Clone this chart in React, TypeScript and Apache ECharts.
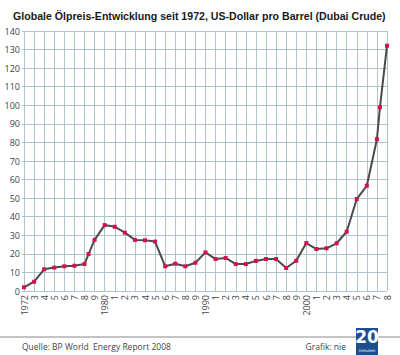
import React, { useEffect, useRef } from "react";
import * as echarts from "echarts";

const years = [1972, 1973, 1974, 1975, 1976, 1977, 1978, 1978.4, 1979, 1980, 1981, 1982, 1983, 1984, 1985, 1986, 1987, 1988, 1989, 1990, 1991, 1992, 1993, 1994, 1995, 1996, 1997, 1998, 1999, 2000, 2001, 2002, 2003, 2004, 2005, 2006, 2007, 2007.3, 2008];
const prices = [2.0, 5.0, 11.7, 12.6, 13.3, 13.6, 14.5, 19.9, 27.5, 35.5, 34.6, 31.4, 27.5, 27.3, 26.6, 13.3, 14.7, 13.3, 15.2, 20.8, 17.2, 17.8, 14.5, 14.5, 16.2, 17.2, 17.2, 12.4, 16.3, 25.8, 22.6, 23.0, 25.7, 31.9, 49.5, 56.7, 81.7, 98.9, 132.1];
const fullYearLabels = [1972, 1980, 1990, 2000];

const titleText = "Globale Ölpreis-Entwicklung seit 1972, US-Dollar pro Barrel (Dubai Crude)";
const sourceText = "Quelle: BP World  Energy Report 2008";
const creditText = "Grafik: nie";

export default function App() {
  const ref = useRef<HTMLDivElement>(null);
  useEffect(() => {
    if (!ref.current) return;
    const chart = echarts.init(ref.current, null, { renderer: "svg" });
    const gridColor = "#aec3ca";
    chart.setOption({
      animation: false,
      backgroundColor: "#ffffff",
      title: {
        text: titleText,
        left: 8,
        top: 5,
        textStyle: { fontFamily: "Liberation Sans", fontWeight: "bold", fontSize: 10.6, color: "#1a1a1a" },
      },
      grid: { left: 24, right: 13, top: 31, bottom: 64 },
      xAxis: {
        type: "value",
        min: 1972,
        max: 2008,
        interval: 1,
        axisLine: { show: false },
        axisTick: { show: false },
        splitLine: { show: true, lineStyle: { color: gridColor, width: 1 } },
        axisLabel: {
          rotate: 90,
          margin: 4,
          fontFamily: "Open Sans",
          fontSize: 9,
          color: "#444",
          formatter: (v: number) => (fullYearLabels.includes(v) ? String(v) : String(v % 10)),
        },
      },
      yAxis: {
        type: "value",
        min: 0,
        max: 140,
        interval: 10,
        axisLine: { show: false },
        axisTick: { show: true, length: 2, lineStyle: { color: gridColor } },
        splitLine: { show: true, lineStyle: { color: gridColor, width: 1 } },
        axisLabel: { margin: 4, fontFamily: "Open Sans", fontSize: 9, color: "#444" },
      },
      series: [
        {
          type: "line",
          data: years.map((y, i) => [y, prices[i]]),
          symbol: "rect",
          symbolSize: 4,
          lineStyle: { color: "#4a4a4a", width: 2 },
          itemStyle: { color: "#d6104e" },
        },
      ],
      graphic: [
        { type: "line", shape: { x1: 0, y1: 337, x2: 400, y2: 337 }, style: { stroke: "#888", lineWidth: 1 } },
        { type: "text", x: 22, y: 342, style: { text: sourceText, fontFamily: "Open Sans", fontSize: 8.5, fill: "#444" } },
        { type: "text", x: 346, y: 342, style: { text: creditText, fontFamily: "Open Sans", fontSize: 8.5, fill: "#444", align: "right" } },
        { type: "rect", shape: { x: 356, y: 328, width: 22, height: 27 }, style: { fill: "#1d4f8f" } },
        { type: "text", x: 367, y: 328, style: { text: "20", fontFamily: "DejaVu Sans", fontWeight: "bold", fontSize: 17, fill: "#ffffff", align: "center" } },
        { type: "text", x: 367, y: 348, style: { text: "minuten", fontFamily: "DejaVu Sans", fontSize: 4, fill: "#ffffff", align: "center" } },
      ],
    });
    return () => chart.dispose();
  }, []);
  return <div ref={ref} style={{ position: "absolute", left: 0, top: 0, width: 400, height: 355 }} />;
}
